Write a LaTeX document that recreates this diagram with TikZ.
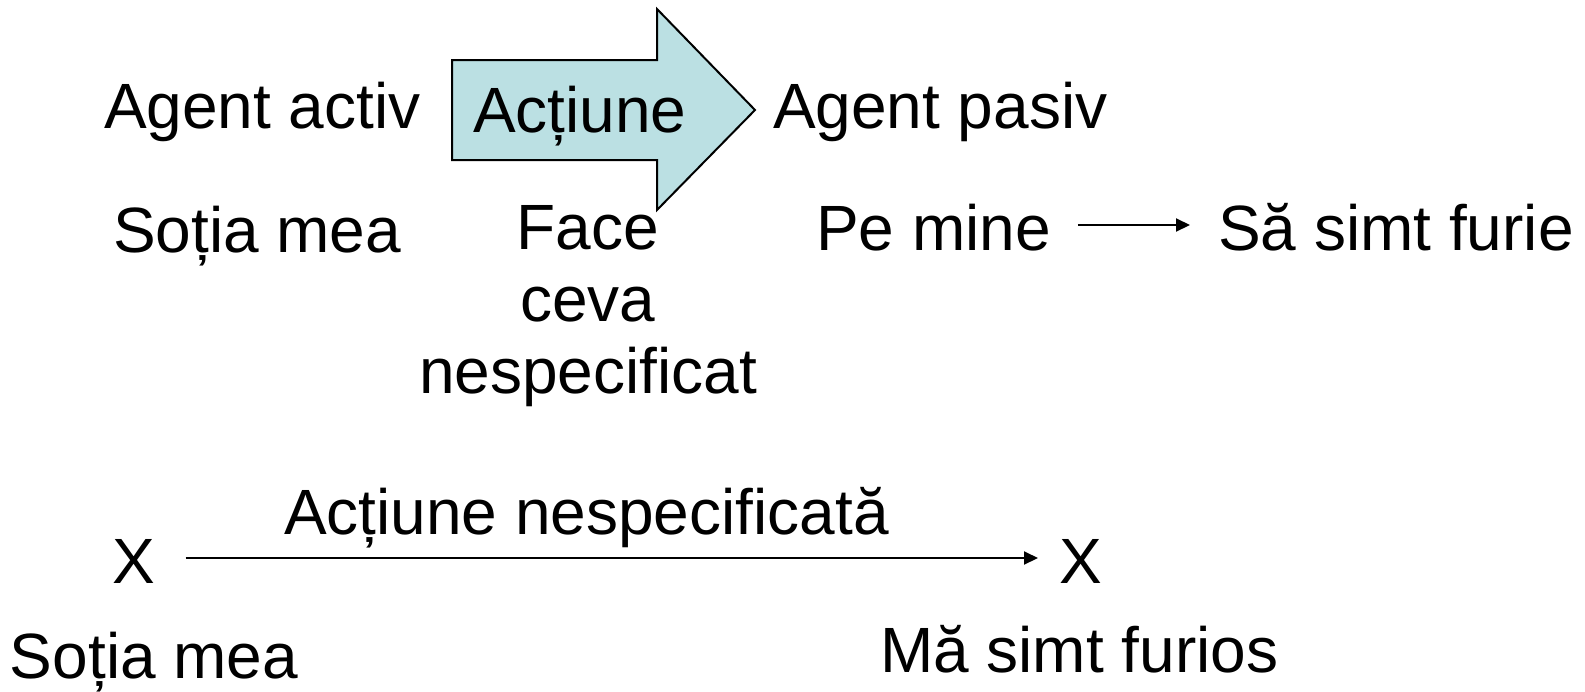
\documentclass[tikz,border=0pt]{standalone}
\usepackage{fontspec}
\setmainfont{Liberation Sans}
\usetikzlibrary{arrows.meta, positioning}
\definecolor{actfill}{RGB}{187,224,227}

\begin{document}
\begin{tikzpicture}[x=0.5pt, y=-0.5pt, ->, >={Triangle[length=7pt,width=6.5pt]}, line width=1pt,
    word/.style={inner sep=0pt, anchor=base west, font=\fontsize{32}{36}\selectfont},
    linked/.style={word, text height=25pt, text depth=0pt}]
  \useasboundingbox (0,0) rectangle (1585,691);

  % the big arrow with its label
  \draw[-, fill=actfill, line join=miter] (452,60) -- (657,60) -- (657,9) -- (755,110)
    -- (657,210) -- (657,160) -- (452,160) -- cycle;
  \node[word] (act) at (472,132) {Acțiune};

  % top rows
  \node[word] (activ) at (103,128) {Agent activ};
  \node[word] (pasiv) at (772,128) {Agent pasiv};
  \node[word] (sotia) at (112,252) {Soția mea};
  \node[word, anchor=north, align=center] (face) at (588,204) {Face\\ceva\\nespecificat};
  \node[linked] (pemine) at (815,250) {Pe mine};
  \node[linked] (furie) at (1217,250) {Să simt furie};

  % bottom row
  \node[linked] (x1) at (111,583) {X};
  \node[linked] (x2) at (1058,583) {X};
  \node[word] (nespec) at (283,534) {Acțiune nespecificată};
  \node[word] (sotia2) at (9,678) {Soția mea};
  \node[word] (furios) at (879,672) {Mă simt furios};

  \draw[shorten <=13pt, shorten >=13.5pt] (pemine) -- (furie);
  \draw[shorten <=15pt, shorten >=10pt] (x1) -- (x2);
\end{tikzpicture}
\end{document}
